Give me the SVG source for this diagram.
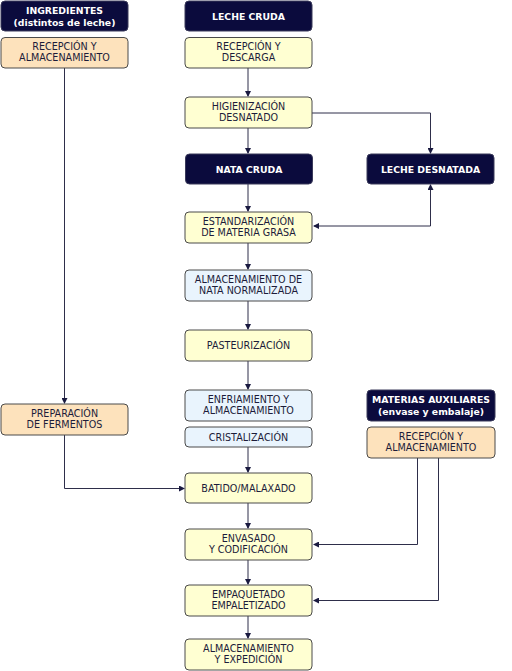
<svg xmlns="http://www.w3.org/2000/svg" width="512" height="671" viewBox="0 0 512 671">
<style>
text{font-family:"DejaVu Sans",Verdana,sans-serif;font-size:9.6px;fill:#1c1c3a;text-anchor:middle}
.dk rect{fill:#0b0b3d;stroke:#3a3a5a;stroke-width:1}
.dk text{fill:#ffffff;font-weight:bold;font-size:9.3px}
.y rect{fill:#ffffd2;stroke:#4a4a4a;stroke-width:1}
.b rect{fill:#e9f4fd;stroke:#4a4a4a;stroke-width:1}
.o rect{fill:#fde2bc;stroke:#4a4a4a;stroke-width:1}
#connectors path{fill:none;stroke:#2e2e4a;stroke-width:1;marker-end:url(#ar)}
</style>
<defs>
<marker id="ar" markerWidth="6" markerHeight="6" refX="5" refY="3" orient="auto" markerUnits="userSpaceOnUse">
<path d="M0,0 L6,3 L0,6 z" fill="#1a1a40"/>
</marker>
</defs>
<rect width="512" height="671" fill="#ffffff"/>
<g id="connectors">
<path d="M64.5,68 V403"/>
<path d="M248,68 V96"/>
<path d="M248,128 V153"/>
<path d="M312,113 H430.5 V153"/>
<path d="M248,184 V211"/>
<path d="M430.5,226 V185"/>
<path d="M430.5,226 H314"/>
<path d="M248,243 V269"/>
<path d="M248,301 V329"/>
<path d="M248,361 V389"/>
<path d="M248,447 V472"/>
<path d="M64.5,435 V488.5 H184"/>
<path d="M248,503 V528"/>
<path d="M417.5,458 V544.5 H314"/>
<path d="M438.5,458 V600.5 H314"/>
<path d="M248,560 V584"/>
<path d="M248,616 V638"/>
</g>
<g id="n_ingredientes" class="dk"><rect x="1" y="1" width="127" height="30" rx="4"/><text x="64.5" y="14">INGREDIENTES</text><text x="64.5" y="26">(distintos de leche)</text></g>
<g id="n_leche_cruda" class="dk"><rect x="185" y="1" width="127" height="30" rx="4"/><text x="248.5" y="19.5">LECHE CRUDA</text></g>
<g id="n_recepcion_ing" class="o"><rect x="1" y="37.5" width="127" height="30.5" rx="4"/><text x="64.5" y="50">RECEPCIÓN Y</text><text x="64.5" y="61">ALMACENAMIENTO</text></g>
<g id="n_recepcion_descarga" class="y"><rect x="185" y="37.5" width="127" height="30.5" rx="4"/><text x="248.5" y="50">RECEPCIÓN Y</text><text x="248.5" y="61">DESCARGA</text></g>
<g id="n_higienizacion" class="y"><rect x="185" y="97" width="127" height="31" rx="4"/><text x="248.5" y="110">HIGIENIZACIÓN</text><text x="248.5" y="121">DESNATADO</text></g>
<g id="n_nata_cruda" class="dk"><rect x="185.5" y="154" width="127" height="30" rx="4"/><text x="249" y="172.5">NATA CRUDA</text></g>
<g id="n_leche_desnatada" class="dk"><rect x="367" y="154" width="127" height="30" rx="4"/><text x="430.5" y="172.5">LECHE DESNATADA</text></g>
<g id="n_estandarizacion" class="y"><rect x="185" y="212" width="127" height="31" rx="4"/><text x="248.5" y="225">ESTANDARIZACIÓN</text><text x="248.5" y="236">DE MATERIA GRASA</text></g>
<g id="n_almacen_nata" class="b"><rect x="185" y="270" width="127" height="31" rx="4"/><text x="248.5" y="283">ALMACENAMIENTO DE</text><text x="248.5" y="294">NATA NORMALIZADA</text></g>
<g id="n_pasteurizacion" class="y"><rect x="185" y="330" width="127" height="31" rx="4"/><text x="248.5" y="349">PASTEURIZACIÓN</text></g>
<g id="n_enfriamiento" class="b"><rect x="185" y="390" width="127" height="31" rx="4"/><text x="248.5" y="403">ENFRIAMIENTO Y</text><text x="248.5" y="414">ALMACENAMIENTO</text></g>
<g id="n_cristalizacion" class="b"><rect x="185" y="427" width="127" height="20" rx="4"/><text x="248.5" y="440.5">CRISTALIZACIÓN</text></g>
<g id="n_materias" class="dk"><rect x="367" y="390" width="128" height="31" rx="4"/><text x="431" y="403">MATERIAS AUXILIARES</text><text x="431" y="414.5">(envase y embalaje)</text></g>
<g id="n_recepcion_aux" class="o"><rect x="367" y="427" width="128" height="31" rx="4"/><text x="431" y="440">RECEPCIÓN Y</text><text x="431" y="451">ALMACENAMIENTO</text></g>
<g id="n_preparacion" class="o"><rect x="1" y="404" width="127" height="31" rx="4"/><text x="64.5" y="417">PREPARACIÓN</text><text x="64.5" y="428">DE FERMENTOS</text></g>
<g id="n_batido" class="y"><rect x="185" y="473" width="127" height="30" rx="4"/><text x="248.5" y="491.5">BATIDO/MALAXADO</text></g>
<g id="n_envasado" class="y"><rect x="185" y="529" width="127" height="31" rx="4"/><text x="248.5" y="542">ENVASADO</text><text x="248.5" y="553">Y CODIFICACIÓN</text></g>
<g id="n_empaquetado" class="y"><rect x="185" y="585" width="127" height="31" rx="4"/><text x="248.5" y="598">EMPAQUETADO</text><text x="248.5" y="609">EMPALETIZADO</text></g>
<g id="n_almacen_exped" class="y"><rect x="185" y="639" width="127" height="31" rx="4"/><text x="248.5" y="652">ALMACENAMIENTO</text><text x="248.5" y="663">Y EXPEDICIÓN</text></g>
</svg>
